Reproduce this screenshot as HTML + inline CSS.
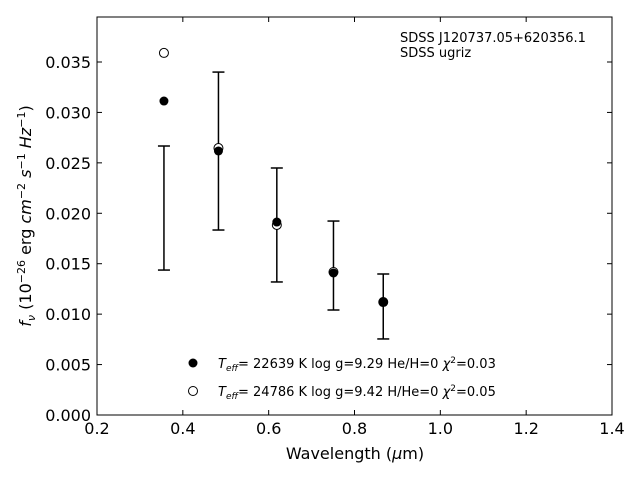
<!DOCTYPE html>
<html><head><meta charset="utf-8"><style>
body{margin:0;background:#fff;font-family:"Liberation Sans","DejaVu Sans",sans-serif}
svg text{font-family:"DejaVu Sans","Liberation Sans",sans-serif}
</style></head><body>
<svg id="chart" width="640" height="480" xmlns="http://www.w3.org/2000/svg">
<rect width="640" height="480" fill="#fff"/>
<g id="marks"></g>
<rect x="97" y="17" width="515" height="398" fill="none" stroke="#000" stroke-width="1"/>
<g id="xt" font-size="16"></g><g id="yt" font-size="16"></g>
<text x="355" y="459" text-anchor="middle" font-size="16">Wavelength (<tspan font-style="italic">μ</tspan>m)</text>
<text transform="translate(31,216) rotate(-90)" text-anchor="middle" font-size="16"><tspan font-style="italic">f</tspan><tspan font-style="italic" font-size="11" dy="4">ν</tspan><tspan dy="-4"> (10</tspan><tspan font-size="11" dy="-6">−26</tspan><tspan dy="6"> erg </tspan><tspan font-style="italic">cm</tspan><tspan font-size="11" dy="-6">−2</tspan><tspan dy="6"> </tspan><tspan font-style="italic">s</tspan><tspan font-size="11" dy="-6">−1</tspan><tspan dy="6"> </tspan><tspan font-style="italic">Hz</tspan><tspan font-size="11" dy="-6">−1</tspan><tspan dy="6">)</tspan></text>
<text x="400" y="42" font-size="13">SDSS J120737.05+620356.1</text>
<text x="400" y="57" font-size="13">SDSS ugriz</text>
<g font-size="13">
<circle cx="193" cy="363" r="4.5" fill="#000"/>
<text x="218" y="368"><tspan font-style="italic">T</tspan><tspan font-style="italic" font-size="9" dy="3">eff</tspan><tspan dy="-3">= 22639 K  log g=9.29  He/H=0  </tspan><tspan font-style="italic">χ</tspan><tspan font-size="9" dy="-5">2</tspan><tspan dy="5">=0.03</tspan></text>
<circle cx="193" cy="391" r="4.5" fill="#fff" stroke="#000"/>
<text x="218" y="396"><tspan font-style="italic">T</tspan><tspan font-style="italic" font-size="9" dy="3">eff</tspan><tspan dy="-3">= 24786 K  log g=9.42  H/He=0  </tspan><tspan font-style="italic">χ</tspan><tspan font-size="9" dy="-5">2</tspan><tspan dy="5">=0.05</tspan></text>
</g>
</svg>
<script>
const wavelengths=[0.356,0.483,0.619,0.751,0.867];
const obsFlux=[0.02052,0.02617,0.01884,0.01482,0.01076];
const obsErr=[0.00615,0.00783,0.00565,0.00441,0.00322];
const modelHe=[0.03113,0.02618,0.01913,0.01408,0.0112];
const modelH=[0.0359,0.02647,0.01884,0.01418,0.0112];
const xTicks=[0.2,0.4,0.6,0.8,1.0,1.2,1.4];
const yTicks=[0,0.005,0.010,0.015,0.020,0.025,0.030,0.035];
const X=v=>97+(v-0.2)*515/1.2;
const Y=v=>415-v*10086;
const NS="http://www.w3.org/2000/svg";
function mk(p,t,a){const e=document.createElementNS(NS,t);for(const k in a)e.setAttribute(k,a[k]);p.appendChild(e);return e;}
const m=document.getElementById('marks');
wavelengths.forEach((w,i)=>{
 const x=X(w),t=Y(obsFlux[i]+obsErr[i]),b=Y(obsFlux[i]-obsErr[i]);
 const g=mk(m,'g',{stroke:'#000','stroke-width':1.5});
 
 
 mk(g,'line',{x1:x,x2:x,y1:t,y2:b});mk(g,'line',{x1:x-6,x2:x+6,y1:t,y2:t});mk(g,'line',{x1:x-6,x2:x+6,y1:b,y2:b});
});
wavelengths.forEach((w,i)=>{
 const c=mk(m,'circle',{cx:X(w),cy:Y(modelH[i]),r:4.5,fill:'#fff',stroke:'#000'});
 
 
});
wavelengths.forEach((w,i)=>{
 const c=mk(m,'circle',{cx:X(w),cy:Y(modelHe[i]),r:4.5,fill:'#000'});
 
 
});
const xt=document.getElementById('xt'),yt=document.getElementById('yt');
xTicks.forEach(v=>{const x=X(v);mk(xt,'line',{x1:x,x2:x,y1:415,y2:410,stroke:'#000'});mk(xt,'line',{x1:x,x2:x,y1:17,y2:22,stroke:'#000'});
 const t=mk(xt,'text',{x:x,y:434,'text-anchor':'middle'});t.textContent=v.toFixed(1);
 
 });
yTicks.forEach(v=>{const y=Y(v);mk(yt,'line',{x1:97,x2:102,y1:y,y2:y,stroke:'#000'});mk(yt,'line',{x1:612,x2:607,y1:y,y2:y,stroke:'#000'});
 const t=mk(yt,'text',{x:91,y:y+6,'text-anchor':'end'});t.textContent=v.toFixed(3);
 
 });
</script>
</body></html>
